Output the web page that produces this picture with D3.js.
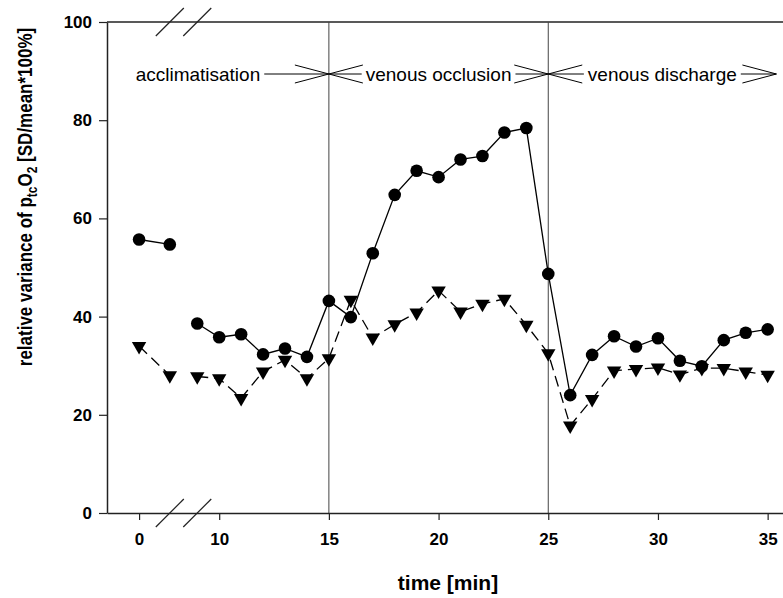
<!DOCTYPE html>
<html>
<head>
<meta charset="utf-8">
<script src="https://cdn.jsdelivr.net/npm/d3@7"></script>
<style>
  body { margin: 0; background: #fff; }
  text { font-family: "Liberation Sans", Arial, sans-serif; }
</style>
</head>
<body>
<svg id="chart" width="783" height="598"></svg>
<script>
// time points (min); the axis is broken between 1.4 and 9
var times = [0, 1.4, 9, 10, 11, 12, 13, 14, 15, 16, 17, 18, 19, 20, 21, 22, 23, 24, 25,
             26, 27, 28, 29, 30, 31, 32, 33, 34, 35];
// solid line with circles
var circleValues = [55.7, 54.7, 38.6, 35.8, 36.4, 32.3, 33.5, 31.8, 43.2, 39.9, 52.9, 64.8, 69.7,
                    68.4, 72.0, 72.7, 77.5, 78.4, 48.7, 24.0, 32.2, 36.0, 33.9, 35.6, 31.0, 29.9,
                    35.2, 36.7, 37.4];
// dashed line with triangles
var triangleValues = [34.0, 28.0, 27.8, 27.4, 23.4, 28.8, 31.2, 27.4, 31.5, 43.4, 35.7, 38.4, 40.8,
                      45.3, 41.0, 42.6, 43.6, 38.3, 32.5, 17.8, 23.2, 29.0, 29.3, 29.6, 28.2, 29.5,
                      29.5, 28.8, 28.1];
var xTicks = [0, 10, 15, 20, 25, 30, 35];
var yTicks = [0, 20, 40, 60, 80, 100];
var phaseLines = [15, 25];
var phases = [
    { label: "acclimatisation", from: -1.46, to: 15 },
    { label: "venous occlusion", from: 15, to: 25 },
    { label: "venous discharge", from: 25, to: 35.4 }
];

var svg = d3.select("#chart");
var plotLeft = 107, plotRight = 783, plotTop = 22, plotBottom = 513;

// piecewise scale that skips the gap of the broken axis
var x = d3.scaleLinear()
    .domain([-1.46, 2, 8.35, 35.7])
    .range([plotLeft, 183, 183, plotRight]);
var y = d3.scaleLinear().domain([0, 100]).range([plotBottom, plotTop]);

var g = svg.append("g");

// top frame line
g.append("line")
    .attr("x1", plotLeft).attr("x2", plotRight)
    .attr("y1", plotTop).attr("y2", plotTop)
    .attr("stroke", "#222").attr("stroke-width", 1.5);

// phase separators
g.selectAll(".phase-line")
    .data(phaseLines)
    .enter().append("line")
    .attr("x1", function (d) { return x(d); })
    .attr("x2", function (d) { return x(d); })
    .attr("y1", plotTop).attr("y2", plotBottom)
    .attr("stroke", "#444").attr("stroke-width", 1);

// axes
var xAxis = d3.axisBottom(x).tickValues(xTicks).tickSizeInner(7).tickSizeOuter(0);
var yAxis = d3.axisLeft(y).tickValues(yTicks).tickSizeInner(8).tickSizeOuter(0);

var gx = g.append("g").attr("transform", "translate(0," + plotBottom + ")").call(xAxis);
var gy = g.append("g").attr("transform", "translate(" + plotLeft + ",0)").call(yAxis);

[gx, gy].forEach(function (ax) {
    ax.select(".domain").attr("stroke", "#222").attr("stroke-width", 1.5);
    ax.selectAll(".tick line").attr("stroke", "#222").attr("stroke-width", 1.2);
    ax.selectAll(".tick text")
        .attr("fill", "#000")
        .style("font-size", "17px")
        .style("font-weight", "bold")
        .style("font-family", "'Liberation Sans', Arial, sans-serif");
});
gx.selectAll(".tick text").attr("dy", "1.3em");
gy.selectAll(".tick text").attr("x", -15);

// break marks on top and bottom axis
var breakAt = [1.4, 9];
[plotTop, plotBottom].forEach(function (yy) {
    g.selectAll(null)
        .data(breakAt)
        .enter().append("line")
        .attr("x1", function (d) { return x(d) - 14; })
        .attr("x2", function (d) { return x(d) + 14; })
        .attr("y1", yy + 14).attr("y2", yy - 14)
        .attr("stroke", "#222").attr("stroke-width", 1.2);
});

// data, split into the two segments of the broken axis
var rows = times.map(function (t, i) {
    return { t: t, c: circleValues[i], v: triangleValues[i], seg: t < 5 ? 0 : 1 };
});
var segments = Array.from(d3.group(rows, function (d) { return d.seg; }).values());

var lineC = d3.line().x(function (d) { return x(d.t); }).y(function (d) { return y(d.c); });
var lineT = d3.line().x(function (d) { return x(d.t); }).y(function (d) { return y(d.v); });

g.selectAll(".line-t")
    .data(segments)
    .enter().append("path")
    .attr("d", lineT)
    .attr("fill", "none")
    .attr("stroke", "#000")
    .attr("stroke-width", 1.3)
    .attr("stroke-dasharray", "11,6");

g.selectAll(".line-c")
    .data(segments)
    .enter().append("path")
    .attr("d", lineC)
    .attr("fill", "none")
    .attr("stroke", "#000")
    .attr("stroke-width", 1.3);

g.selectAll(".tri")
    .data(rows)
    .enter().append("path")
    .attr("d", d3.symbol().type(d3.symbolTriangle).size(90))
    .attr("transform", function (d) { return "translate(" + x(d.t) + "," + y(d.v) + ") rotate(180)"; })
    .attr("fill", "#000");

g.selectAll(".dot")
    .data(rows)
    .enter().append("circle")
    .attr("cx", function (d) { return x(d.t); })
    .attr("cy", function (d) { return y(d.c); })
    .attr("r", 6.3)
    .attr("fill", "#000");

// phase labels with open double arrows
var annY = 74;
phases.forEach(function (p, i) {
    var x0 = x(p.from), x1 = x(p.to);
    var txt = g.append("text")
        .attr("x", (x0 + x1) / 2 - (i == 0 ? 20 : 0))
        .attr("y", annY + 7)
        .attr("text-anchor", "middle")
        .style("font-size", "19px")
        .text(p.label);
    var bb = txt.node().getBBox();
    var arrow = d3.path();
    if (i > 0) {
        arrow.moveTo(x0, annY); arrow.lineTo(bb.x - 4, annY);
        arrow.moveTo(x0 + 34, annY - 9); arrow.lineTo(x0, annY); arrow.lineTo(x0 + 34, annY + 9);
    }
    arrow.moveTo(bb.x + bb.width + 4, annY); arrow.lineTo(x1, annY);
    arrow.moveTo(x1 - 34, annY - 9); arrow.lineTo(x1, annY); arrow.lineTo(x1 - 34, annY + 9);
    g.append("path").attr("d", arrow.toString())
        .attr("fill", "none").attr("stroke", "#000").attr("stroke-width", 1);
});

// axis titles
svg.append("text")
    .attr("x", 448).attr("y", 590)
    .attr("text-anchor", "middle")
    .style("font-size", "21px").style("font-weight", "bold")
    .text("time [min]");

var yt = svg.append("text")
    .attr("transform", "translate(32,197) rotate(-90) scale(1,1.2)")
    .attr("text-anchor", "middle")
    .style("font-size", "17px").style("font-weight", "bold");
yt.append("tspan").text("relative variance of p");
yt.append("tspan").attr("dy", 4).style("font-size", "12px").text("tc");
yt.append("tspan").attr("dy", -4).text("O");
yt.append("tspan").attr("dy", 4).style("font-size", "12px").text("2");
yt.append("tspan").attr("dy", -4).text(" [SD/mean*100%]");
</script>
</body>
</html>
